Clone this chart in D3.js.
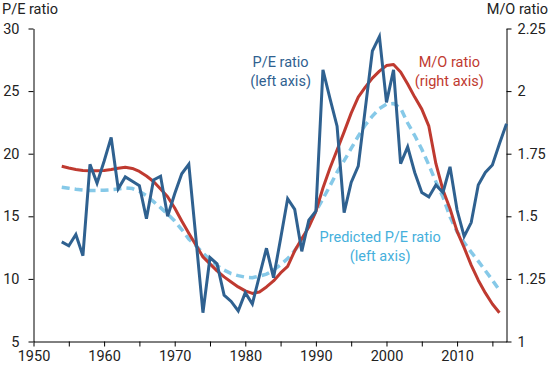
<!DOCTYPE html>
<html>
<head>
<meta charset="utf-8">
<script src="https://cdn.jsdelivr.net/npm/d3@7"></script>
<style>
  html, body { margin: 0; padding: 0; background: #fff; }
  svg { display: block; }
  text { font-family: Roboto, "Noto Sans", sans-serif; }
</style>
</head>
<body>
<svg id="chart" width="550" height="365"></svg>
<script>
// ---- data ----
const peYears = d3.range(1954, 2018);
const peRatio = [
  12.96, 12.65, 13.55, 11.85, 19.15, 17.65, 19.4, 21.3, 17.2, 18.15,
  17.8, 17.45, 14.8, 17.9, 18.2, 15.0, 16.8, 18.4, 19.15, 13.3,
  7.3, 11.7, 11.2, 8.7, 8.2, 7.45, 8.9, 8.0, 10.25, 12.45,
  10.1, 13.2, 16.4, 15.55, 12.2, 14.7, 15.4, 26.7, 24.4, 22.2,
  15.3, 17.7, 19.0, 23.6, 28.2, 29.35, 24.1, 26.7, 19.2, 20.55,
  18.5, 16.9, 16.55, 17.5, 16.9, 18.95, 15.5, 13.4, 14.5, 17.5,
  18.5, 19.1, 20.8, 22.4
];
const moYears = d3.range(1954, 2017);
const moRatio = [
  1.700, 1.693, 1.687, 1.683, 1.682, 1.682, 1.683, 1.687, 1.692, 1.696,
  1.691, 1.679, 1.661, 1.639, 1.609, 1.578, 1.533, 1.481, 1.432, 1.385,
  1.338, 1.310, 1.282, 1.258, 1.238, 1.218, 1.202, 1.192, 1.198, 1.218,
  1.242, 1.274, 1.300, 1.362, 1.410, 1.457, 1.520, 1.613, 1.693, 1.765,
  1.837, 1.912, 1.976, 2.016, 2.052, 2.080, 2.102, 2.106, 2.076, 2.028,
  1.976, 1.928, 1.860, 1.710, 1.605, 1.530, 1.440, 1.375, 1.305, 1.245,
  1.194, 1.150, 1.115
];
const predYears = d3.range(1954, 2017);
const predictedPE = [
  17.32, 17.24, 17.16, 17.10, 17.07, 17.07, 17.08, 17.12, 17.18, 17.26,
  17.22, 17.00, 16.65, 16.17, 15.69, 15.17, 14.62, 13.94, 13.18, 12.66,
  12.06, 11.54, 11.06, 10.70, 10.42, 10.26, 10.14, 10.10, 10.22, 10.38,
  10.70, 11.14, 11.62, 12.26, 13.06, 14.30, 15.40, 16.40, 17.44, 18.52,
  19.44, 20.42, 21.40, 22.30, 23.00, 23.60, 23.95, 24.00, 23.65, 22.45,
  21.45, 20.35, 19.10, 17.76, 16.55, 14.96, 13.77, 12.90, 12.14, 11.42,
  10.66, 9.90, 9.10
];
const xTicks = d3.range(1950, 2016, 5);
const leftTicks = [5, 10, 15, 20, 25, 30];
const rightTicks = [1, 1.25, 1.5, 1.75, 2, 2.25];

// ---- chart ----
const svg = d3.select("#chart");
const FS = "14.5px";
const x = d3.scaleLinear().domain([1950, 2017]).range([33.5, 506.5]);
const yL = d3.scaleLinear().domain([5, 30]).range([341.5, 28.5]);
const yR = d3.scaleLinear().domain([1, 2.25]).range([341.5, 28.5]);

function styleAxis(g) {
  g.selectAll("path.domain").attr("stroke", "#000").attr("stroke-width", 1);
  g.selectAll(".tick line").attr("stroke", "#000").attr("stroke-width", 1);
  g.selectAll(".tick text").attr("fill", "#222").style("font-size", FS)
    .style("font-family", "Roboto, sans-serif");
}

svg.append("g").attr("transform", "translate(0,341.5)")
  .call(d3.axisBottom(x).tickValues(xTicks).tickSize(5).tickSizeOuter(0).tickPadding(4)
    .tickFormat(d => d % 10 === 0 ? String(d) : ""))
  .call(styleAxis);

svg.append("g").attr("transform", "translate(33.5,0)")
  .call(d3.axisLeft(yL).tickValues(leftTicks).tickSize(5).tickSizeOuter(0).tickPadding(9)
    .tickFormat(d3.format("d")))
  .call(styleAxis);

svg.append("g").attr("transform", "translate(506.5,0)")
  .call(d3.axisRight(yR).tickValues(rightTicks).tickSize(5).tickSizeOuter(0).tickPadding(6)
    .tickFormat(d => String(d)))
  .call(styleAxis);

// axis titles
svg.append("text").attr("x", 2).attr("y", 14).attr("fill", "#222")
  .style("font-size", FS).text("P/E ratio");
svg.append("text").attr("x", 548).attr("y", 14).attr("text-anchor", "end")
  .attr("fill", "#222").style("font-size", FS).text("M/O ratio");

// lines
const lineL = d3.line().x(d => x(d[0])).y(d => yL(d[1]));
const lineR = d3.line().x(d => x(d[0])).y(d => yR(d[1]));

svg.append("path")
  .datum(predYears.map((yr, i) => [yr, predictedPE[i]]))
  .attr("d", lineL).attr("fill", "none")
  .attr("stroke", "#86c9e8").attr("stroke-width", 3.5)
  .attr("stroke-dasharray", "8,5");

svg.append("path")
  .datum(moYears.map((yr, i) => [yr, moRatio[i]]))
  .attr("d", lineR).attr("fill", "none")
  .attr("stroke", "#bf3a30").attr("stroke-width", 3)
  .attr("stroke-linejoin", "round");

svg.append("path")
  .datum(peYears.map((yr, i) => [yr, peRatio[i]]))
  .attr("d", lineL).attr("fill", "none")
  .attr("stroke", "#2f6190").attr("stroke-width", 3)
  .attr("stroke-linejoin", "miter");

// annotations
function label(lines, cx, y0, color) {
  const t = svg.append("text").attr("text-anchor", "middle").attr("fill", color)
    .style("font-size", FS);
  lines.forEach((s, i) => {
    t.append("tspan").attr("x", cx).attr("y", y0 + i * 19).text(s);
  });
}
label(["P/E ratio", "(left axis)"], x(1985.0), yL(26.9), "#2f6190");
label(["M/O ratio", "(right axis)"], x(2008.9), yL(26.9), "#bf3a30");
label(["Predicted P/E ratio", "(left axis)"], x(1999.1), yL(12.95), "#45b0dc");
</script>
</body>
</html>
